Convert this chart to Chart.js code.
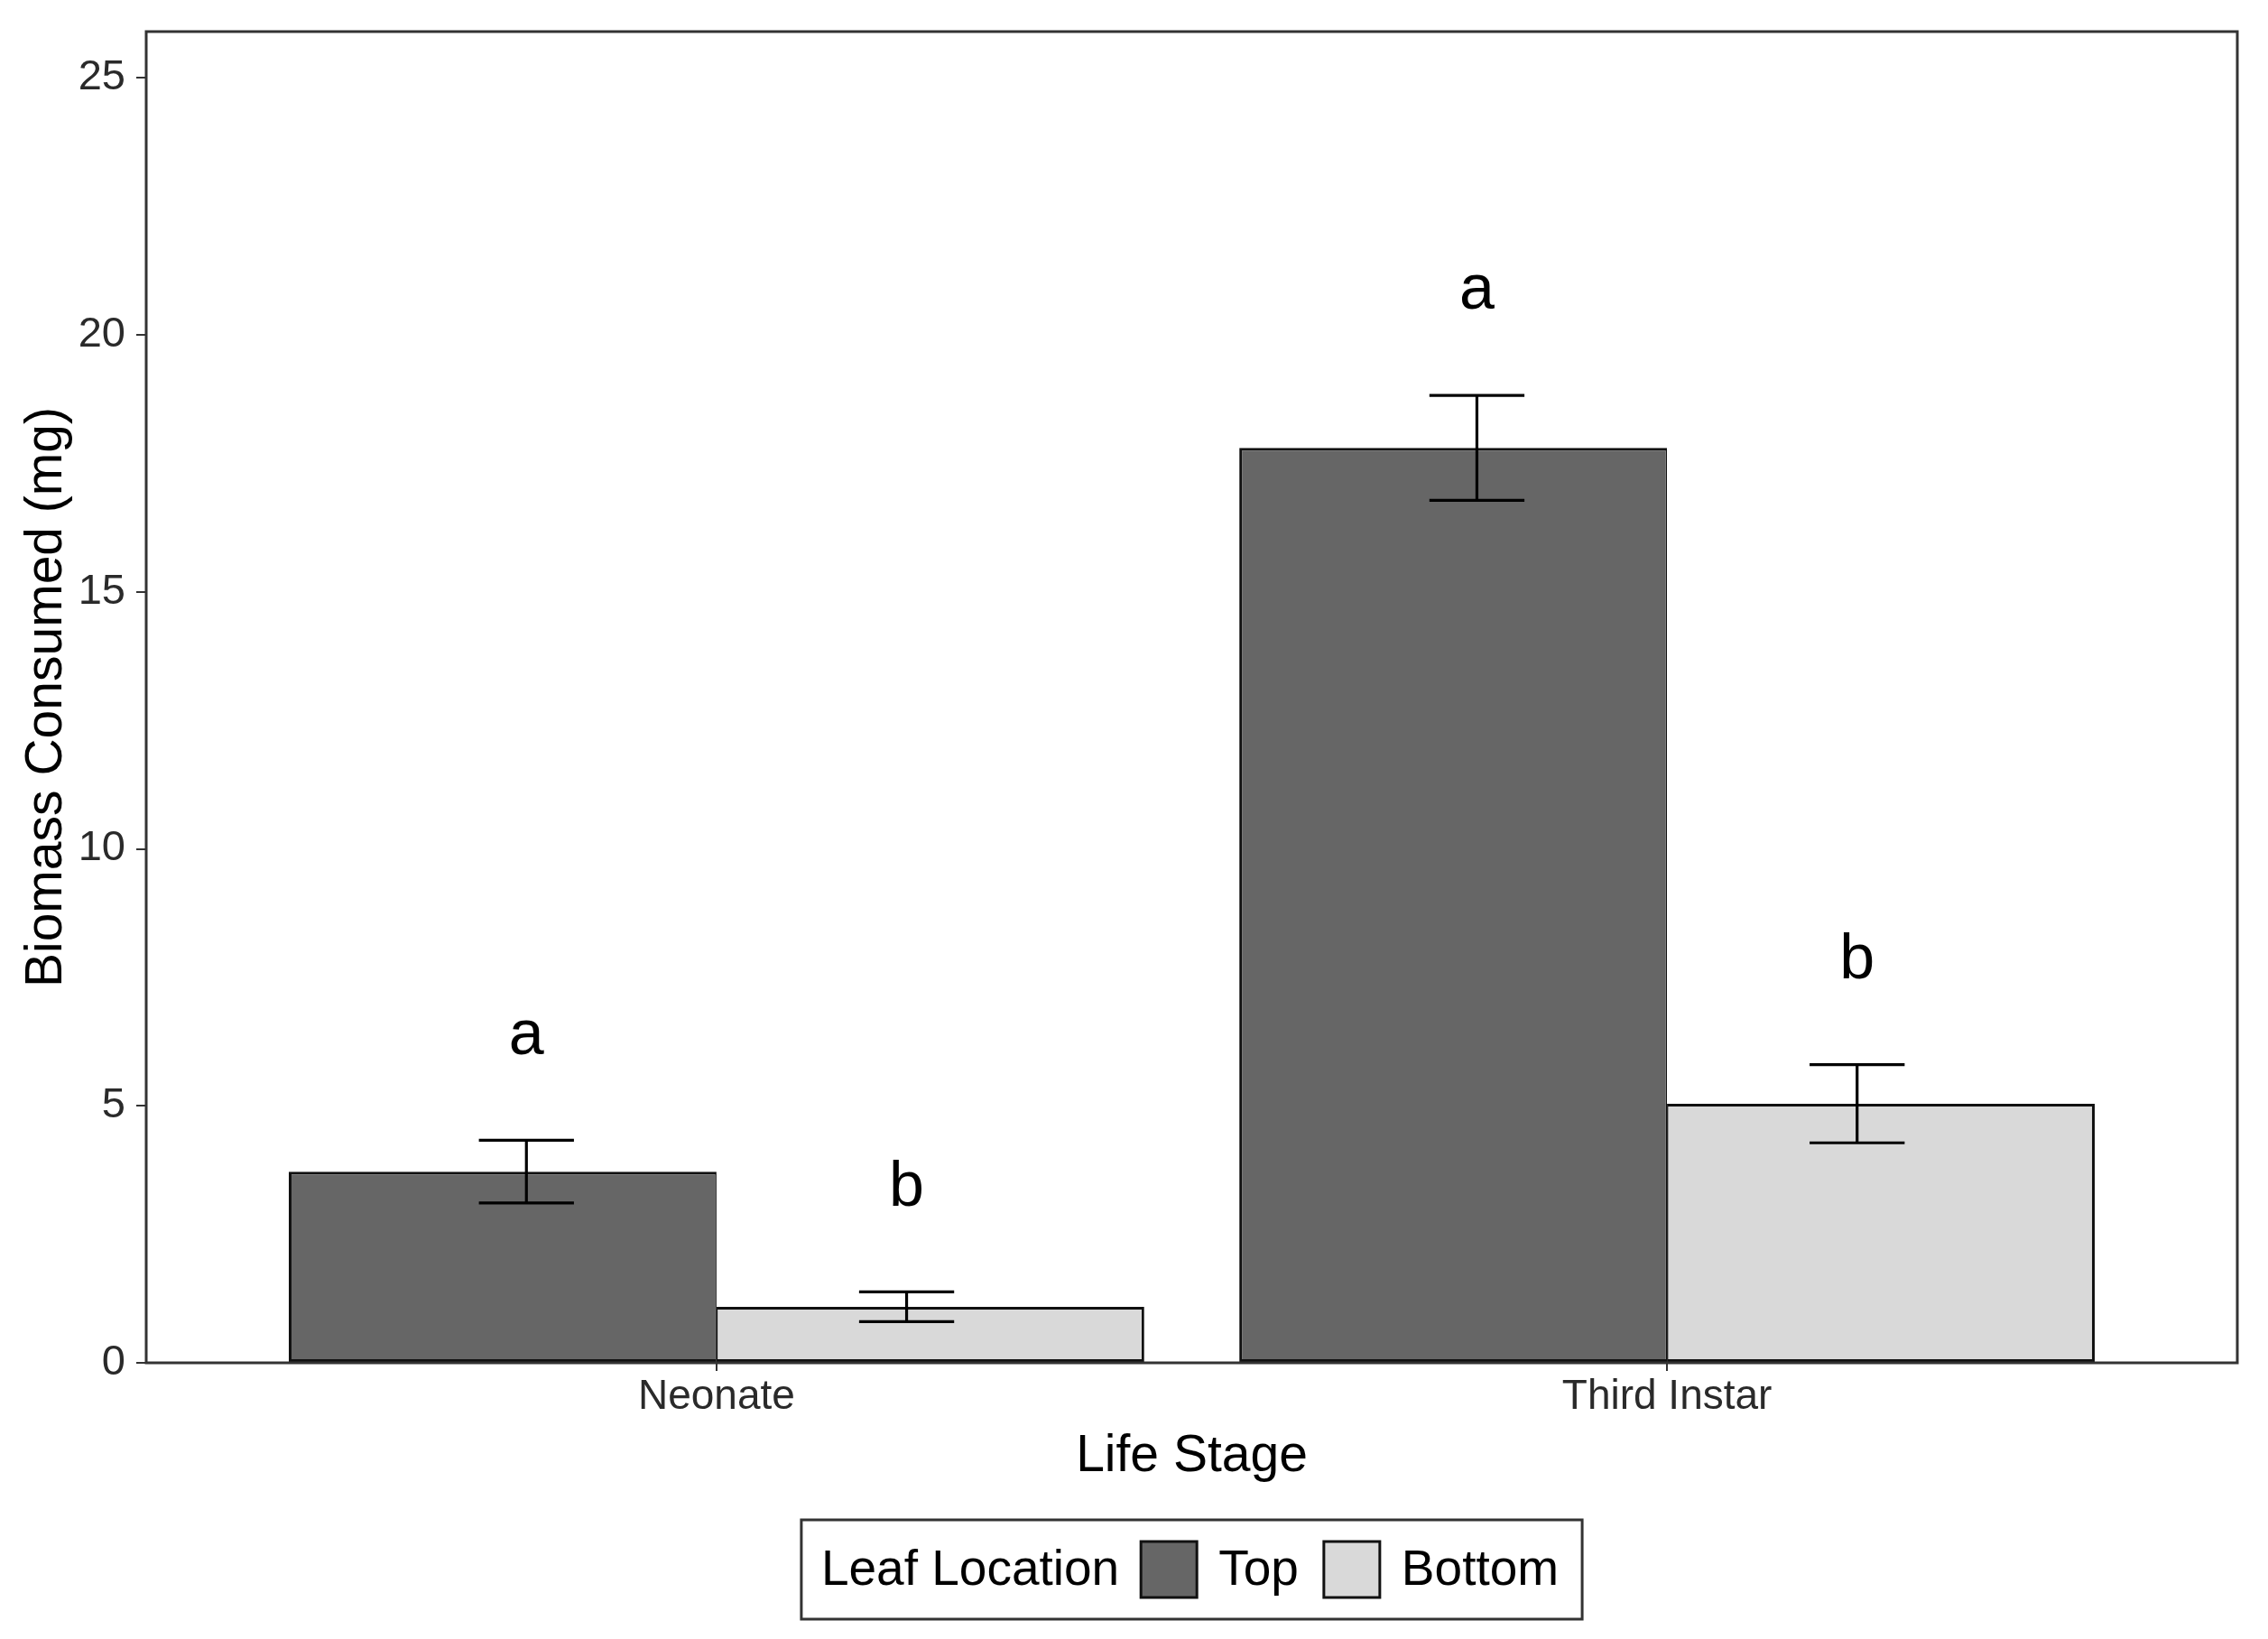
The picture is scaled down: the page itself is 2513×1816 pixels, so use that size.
<!DOCTYPE html>
<html>
<head>
<meta charset="utf-8">
<script src="https://cdn.jsdelivr.net/npm/chart.js@4.4.1/dist/chart.umd.min.js"></script>
<style>
html, body { margin: 0; padding: 0; background: #fff; }
canvas { display: block; }
</style>
</head>
<body>
<canvas id="chart" width="2513" height="1816"></canvas>
<script>
// values
const stages = ['Neonate', 'Third Instar'];
const locations = ['Top', 'Bottom'];
const topMean = [3.72, 17.8];
const topSE = [0.61, 1.02];
const bottomMean = [1.09, 5.04];
const bottomSE = [0.29, 0.76];
const topLetters = ['a', 'a'];
const bottomLetters = ['b', 'b'];
const yTicks = [0, 5, 10, 15, 20, 25];

const seriesMean = [topMean, bottomMean];
const seriesSE = [topSE, bottomSE];
const seriesLetters = [topLetters, bottomLetters];
const errDodge = [-0.2, 0.2];   // error bars are dodged a bit narrower than the bars
const capHalf = 0.05;

Chart.defaults.font.family = '"Liberation Sans", Arial, sans-serif';

const errorBars = {
    id: 'errorBars',
    afterDatasetsDraw(chart) {
        const {ctx, scales: {x, y}} = chart;
        ctx.save();
        ctx.strokeStyle = '#000';
        ctx.lineWidth = 3.2;
        ctx.fillStyle = '#000';
        ctx.font = '70px "Liberation Sans", Arial, sans-serif';
        ctx.textAlign = 'center';
        ctx.textBaseline = 'middle';
        seriesMean.forEach((means, s) => {
            means.forEach((m, i) => {
                const px = x.getPixelForValue(i + errDodge[s]);
                const half = x.getPixelForValue(capHalf) - x.getPixelForValue(0);
                const hi = y.getPixelForValue(m + seriesSE[s][i]);
                const lo = y.getPixelForValue(m - seriesSE[s][i]);
                ctx.beginPath();
                ctx.moveTo(px, hi); ctx.lineTo(px, lo);
                ctx.moveTo(px - half, hi); ctx.lineTo(px + half, hi);
                ctx.moveTo(px - half, lo); ctx.lineTo(px + half, lo);
                ctx.stroke();
                ctx.fillText(seriesLetters[s][i], px, y.getPixelForValue(m + seriesSE[s][i] + 2.02));
            });
        });
        ctx.restore();
    }
};

const frame = {
    id: 'frame',
    afterDraw(chart) {
        const {ctx, chartArea: a} = chart;
        ctx.save();
        ctx.strokeStyle = '#333';
        ctx.lineWidth = 3;
        ctx.strokeRect(a.left, a.top, a.right - a.left, a.bottom - a.top);
        ctx.restore();
    }
};

const legendBox = {
    id: 'legendBox',
    afterDraw(chart) {
        const ctx = chart.ctx;
        const title = 'Leaf Location';
        const sw = 62, padL = 22, padR = 26, h = 110;
        ctx.save();
        ctx.font = '55px "Liberation Sans", Arial, sans-serif';
        const items = chart.data.datasets.map(d => ({
            label: d.label, fill: d.backgroundColor, stroke: d.borderColor,
            w: ctx.measureText(d.label).width
        }));
        const titleW = ctx.measureText(title).width;
        let w = padL + titleW + padR;
        items.forEach((it, i) => { w += (i === 0 ? 24 : 28) + sw + 24 + it.w; });
        const cx = (chart.chartArea.left + chart.chartArea.right) / 2;
        const cy = chart.height - 77;
        const left = cx - w / 2;
        ctx.strokeStyle = '#333';
        ctx.lineWidth = 3;
        ctx.strokeRect(left, cy - h / 2, w, h);
        ctx.fillStyle = '#000';
        ctx.textBaseline = 'middle';
        ctx.textAlign = 'left';
        let xx = left + padL;
        ctx.fillText(title, xx, cy + 2);
        xx += titleW;
        items.forEach((it, i) => {
            xx += i === 0 ? 24 : 28;
            ctx.fillStyle = it.fill;
            ctx.fillRect(xx, cy - sw / 2, sw, sw);
            ctx.strokeStyle = it.stroke;
            ctx.lineWidth = 3;
            ctx.strokeRect(xx, cy - sw / 2, sw, sw);
            xx += sw + 24;
            ctx.fillStyle = '#000';
            ctx.fillText(it.label, xx, cy + 2);
            xx += it.w;
        });
        ctx.restore();
    }
};

new Chart(document.getElementById('chart'), {
    type: 'bar',
    data: {
        datasets: [
            {
                label: locations[0],
                data: topMean.map((v, i) => ({x: i, y: v})),
                backgroundColor: '#666666',
                borderColor: '#111',
                borderWidth: {top: 3, left: 3, bottom: 3, right: 1.5},
                borderSkipped: false
            },
            {
                label: locations[1],
                data: bottomMean.map((v, i) => ({x: i, y: v})),
                backgroundColor: '#d9d9d9',
                borderColor: '#111',
                borderWidth: {top: 3, left: 1.5, bottom: 3, right: 3},
                borderSkipped: false
            }
        ]
    },
    options: {
        responsive: false,
        devicePixelRatio: 1,
        animation: false,
        categoryPercentage: 0.9,
        barPercentage: 1.0,
        layout: {padding: {left: 0, top: 35, right: 34, bottom: 0}},
        plugins: {legend: {display: false}, tooltip: {enabled: false}},
        scales: {
            x: {
                type: 'linear',
                offset: false,
                min: -0.6,
                max: 1.6,
                afterBuildTicks: s => { s.ticks = stages.map((_, i) => ({value: i})); },
                afterFit: s => { s.height = 306; s.paddingLeft = 0; s.paddingRight = 0; },
                ticks: {
                    callback: v => stages[v],
                    autoSkip: false,
                    maxRotation: 0,
                    padding: 2,
                    color: '#2a2a2a',
                    font: {size: 46}
                },
                grid: {offset: false, drawOnChartArea: false, tickLength: 9, lineWidth: 2, color: '#333'},
                border: {display: false},
                title: {
                    display: true,
                    text: 'Life Stage',
                    color: '#000',
                    font: {size: 57},
                    padding: {top: 0, bottom: 168}
                }
            },
            y: {
                min: 0,
                max: 25.9,
                afterBuildTicks: s => { s.ticks = yTicks.map(v => ({value: v})); },
                afterFit: s => { s.width = 162; s.paddingTop = 0; s.paddingBottom = 0; },
                ticks: {autoSkip: false, padding: 12, color: '#2a2a2a', font: {size: 47}},
                grid: {drawOnChartArea: false, tickLength: 11, lineWidth: 2, color: '#333'},
                border: {display: false},
                title: {
                    display: true,
                    text: 'Biomass Consumed (mg)',
                    color: '#000',
                    font: {size: 57},
                    padding: {top: 18, bottom: 0}
                }
            }
        }
    },
    plugins: [errorBars, frame, legendBox]
});
</script>
</body>
</html>
